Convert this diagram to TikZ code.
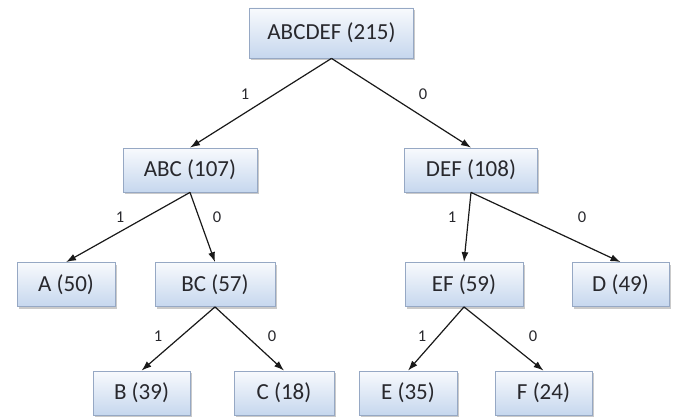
\documentclass[tikz,border=0pt]{standalone}
\usepackage{fontspec}
\setmainfont{Carlito}
\usetikzlibrary{arrows.meta,shadows}
\definecolor{boxtop}{RGB}{248,250,253}
\definecolor{boxbot}{RGB}{198,215,238}
\definecolor{boxline}{RGB}{150,168,196}
\definecolor{txt}{RGB}{40,40,45}
\tikzset{
  hbox/.style={draw=boxline, line width=0.8pt, top color=boxtop, bottom color=boxbot,
    minimum height=44pt, inner sep=0pt, text=txt,
    font=\fontsize{23}{27}\selectfont,
    drop shadow={shadow xshift=1.5pt, shadow yshift=-2pt, opacity=0.35, fill=black!60}},
  edge/.style={draw=black!90, line width=1.2pt, -{Latex[length=10pt,width=7pt]}},
  bit/.style={text=txt, font=\fontsize{16.5}{19}\selectfont, inner sep=0pt}
}
\begin{document}
\begin{tikzpicture}[x=1pt,y=-1pt]
\useasboundingbox (0,0) rectangle (676,417);
\node[hbox, minimum width=164pt, minimum height=50pt] (abcdef) at (331.5,33) {ABCDEF (215)};
\node[hbox, minimum width=134pt] (abc) at (190,170) {ABC (107)};
\node[hbox, minimum width=133pt] (def) at (471,170) {DEF (108)};
\node[hbox, minimum width=98pt] (a) at (66,284.5) {A (50)};
\node[hbox, minimum width=120pt] (bc) at (215,284.5) {BC (57)};
\node[hbox, minimum width=118pt] (ef) at (464,284.5) {EF (59)};
\node[hbox, minimum width=97pt] (d) at (620.5,284.5) {D (49)};
\node[hbox, minimum width=97pt] (b) at (141.5,393) {B (39)};
\node[hbox, minimum width=100pt] (c) at (284,393) {C (18)};
\node[hbox, minimum width=98pt] (e) at (408,393) {E (35)};
\node[hbox, minimum width=97pt] (f) at (543.5,393) {F (24)};
\draw[edge] (abcdef.south) -- (abc.north);
\draw[edge] (abcdef.south) -- (def.north);
\draw[edge] (abc.south) -- (a.north);
\draw[edge] (abc.south) -- (bc.north);
\draw[edge] (def.south) -- (ef.north);
\draw[edge] (def.south) -- (d.north);
\draw[edge] (bc.south) -- (b.north);
\draw[edge] (bc.south) -- (c.north);
\draw[edge] (ef.south) -- (e.north);
\draw[edge] (ef.south) -- (f.north);
\node[bit] (l1) at (245,94) {1};
\node[bit] (l2) at (423,94) {0};
\node[bit] (l3) at (120,217) {1};
\node[bit] (l4) at (217,217) {0};
\node[bit] (l5) at (452,217) {1};
\node[bit] (l6) at (582,217) {0};
\node[bit] (l7) at (158,336) {1};
\node[bit] (l8) at (272,336) {0};
\node[bit] (l9) at (422,336) {1};
\node[bit] (l10) at (533,336) {0};
\end{tikzpicture}
\end{document}
